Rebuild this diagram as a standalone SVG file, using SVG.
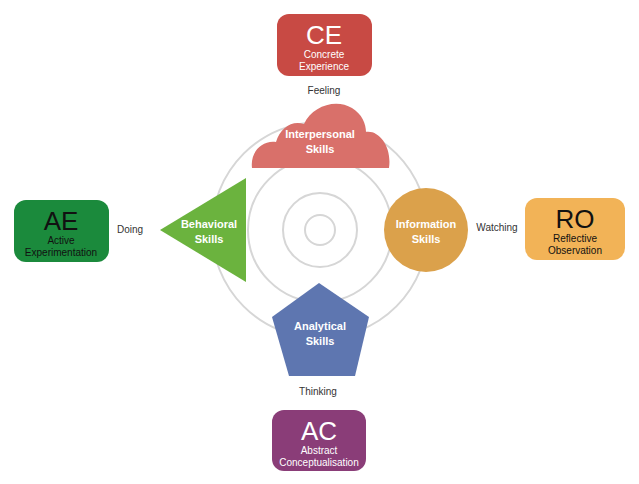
<svg xmlns="http://www.w3.org/2000/svg" width="639" height="484" viewBox="0 0 639 484">
<style>
.ring{fill:none;stroke:#d6d6d6;stroke-width:2}
.big{font:26px "Liberation Sans",Arial,sans-serif;text-anchor:middle}
.sm{font:10px "Liberation Sans",Arial,sans-serif;text-anchor:middle}
.sk{font:bold 11px "Liberation Sans",Arial,sans-serif;fill:#fff;text-anchor:middle}
.lbl{font:10px "Liberation Sans",Arial,sans-serif;fill:#333;text-anchor:middle}
</style>
<rect width="639" height="484" fill="#fff"/>
<g id="rings">
<circle class="ring" cx="320" cy="230" r="15"/>
<circle class="ring" cx="320" cy="230" r="37"/>
<circle class="ring" cx="320" cy="230" r="72"/>
<circle class="ring" cx="320" cy="230" r="108"/>
</g>
<g id="connectors"></g>
<g id="interpersonal">
<path d="M252,168 C250,152 262,140 276,142 C280,128 292,120 304,124 C312,106 336,98 352,108 C362,114 366,124 366,132 C380,130 392,148 389,168 Z" fill="#d9706a"/>
<text class="sk" x="320" y="138">Interpersonal</text><text class="sk" x="320" y="153">Skills</text>
</g>
<g id="behavioral">
<polygon points="160,230 246,178 246,282" fill="#6bb33e"/>
<text class="sk" x="209" y="228">Behavioral</text><text class="sk" x="209" y="243">Skills</text>
</g>
<g id="information">
<circle cx="426" cy="230" r="42" fill="#dba14b"/>
<text class="sk" x="426" y="228">Information</text><text class="sk" x="426" y="243">Skills</text>
</g>
<g id="analytical">
<polygon points="319,283 369,317 355,376 289,376 272,317" fill="#5e76b0"/>
<text class="sk" x="320" y="330">Analytical</text><text class="sk" x="320" y="345">Skills</text>
</g>
<g id="CE">
<rect x="277" y="14" width="95" height="62" rx="12" fill="#c84a44"/>
<text class="big" x="324" y="44" fill="#fff">CE</text>
<text class="sm" x="324" y="58" fill="#fff">Concrete</text><text class="sm" x="324" y="70" fill="#fff">Experience</text>
</g>
<g id="AE">
<rect x="14" y="200" width="95" height="62" rx="12" fill="#1b8a3c"/>
<text class="big" x="61" y="230" fill="#111">AE</text>
<text class="sm" x="61" y="244" fill="#111">Active</text><text class="sm" x="61" y="256" fill="#111">Experimentation</text>
</g>
<g id="RO">
<rect x="525" y="198" width="100" height="62" rx="12" fill="#f2b357"/>
<text class="big" x="575" y="228" fill="#111">RO</text>
<text class="sm" x="575" y="242" fill="#111">Reflective</text><text class="sm" x="575" y="254" fill="#111">Observation</text>
</g>
<g id="AC">
<rect x="272" y="410" width="94" height="61" rx="12" fill="#8a3d78"/>
<text class="big" x="319" y="440" fill="#fff">AC</text>
<text class="sm" x="319" y="454" fill="#fff">Abstract</text><text class="sm" x="319" y="466" fill="#fff">Conceptualisation</text>
</g>
<g id="labels">
<text class="lbl" x="324" y="94">Feeling</text>
<text class="lbl" x="130" y="233">Doing</text>
<text class="lbl" x="497" y="231">Watching</text>
<text class="lbl" x="318" y="395">Thinking</text>
</g>
</svg>
